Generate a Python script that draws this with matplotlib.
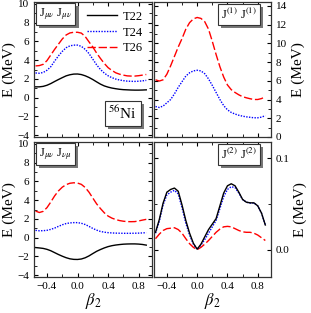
import numpy as np
import matplotlib
matplotlib.use("Agg")
import matplotlib.pyplot as plt
import matplotlib.patheffects as pe
from matplotlib.ticker import MultipleLocator, FixedLocator

plt.rcParams['font.family'] = ['Liberation Serif', 'DejaVu Serif']
plt.rcParams['mathtext.fontset'] = 'stix'

# deformation grid
beta = [-0.55, -0.5, -0.45, -0.4, -0.35, -0.3, -0.25, -0.2, -0.15, -0.1, -0.05,
        0.0, 0.05, 0.1, 0.15, 0.2, 0.25, 0.3, 0.35, 0.4, 0.45, 0.5, 0.55,
        0.6, 0.65, 0.7, 0.75, 0.8, 0.85, 0.9]

# J_munu J_munu (MeV)
jj_t22 = [1.15, 1.15, 1.2, 1.32, 1.5, 1.72, 1.93, 2.13, 2.32, 2.44, 2.51,
          2.52, 2.46, 2.33, 2.15, 1.93, 1.68, 1.44, 1.25, 1.12, 1.02, 0.95, 0.89,
          0.85, 0.83, 0.81, 0.8, 0.8, 0.81, 0.83]
jj_t24 = [2.63, 2.6, 2.68, 2.92, 3.3, 3.9, 4.45, 4.93, 5.32, 5.52, 5.6,
          5.6, 5.47, 5.15, 4.7, 4.1, 3.5, 3.0, 2.62, 2.33, 2.13, 1.98, 1.88,
          1.81, 1.76, 1.74, 1.73, 1.75, 1.79, 1.84]
jj_t26 = [3.38, 3.42, 3.55, 3.95, 4.55, 5.15, 5.7, 6.25, 6.68, 6.9, 6.97,
          6.97, 6.88, 6.52, 5.95, 5.4, 4.75, 4.18, 3.65, 3.2, 2.9, 2.65, 2.5,
          2.4, 2.32, 2.3, 2.3, 2.34, 2.4, 2.47]

# J(1) J(1)
j1_t24 = [3.25, 3.15, 3.3, 3.65, 4.0, 4.6, 5.3, 5.9, 6.5, 6.85, 7.05,
          7.12, 7.05, 6.75, 6.2, 5.5, 4.75, 4.0, 3.35, 2.9, 2.62, 2.45, 2.32,
          2.22, 2.15, 2.1, 2.05, 2.05, 2.12, 2.28]
j1_t26 = [6.1, 5.97, 6.1, 6.7, 7.6, 8.6, 9.6, 10.5, 11.5, 12.2, 12.6,
          12.75, 12.65, 12.3, 11.5, 10.2, 8.8, 7.5, 6.4, 5.55, 5.05, 4.75, 4.5,
          4.3, 4.18, 4.08, 4.0, 4.0, 4.1, 4.3]

# J_munu J_numu
jx_t22 = [-1.06, -1.1, -1.15, -1.25, -1.4, -1.6, -1.8, -1.98, -2.14, -2.26, -2.32,
          -2.33, -2.28, -2.15, -1.95, -1.7, -1.46, -1.27, -1.1, -0.96, -0.86, -0.79, -0.74,
          -0.7, -0.68, -0.67, -0.67, -0.69, -0.73, -0.8]
jx_t24 = [0.78, 0.73, 0.74, 0.78, 0.88, 1.02, 1.2, 1.37, 1.5, 1.57, 1.6,
          1.6, 1.53, 1.4, 1.2, 0.98, 0.8, 0.66, 0.58, 0.53, 0.5, 0.48, 0.47,
          0.46, 0.46, 0.46, 0.47, 0.48, 0.5, 0.53]
jx_t26 = [2.83, 2.68, 2.8, 3.2, 3.8, 4.45, 4.98, 5.38, 5.65, 5.8, 5.85,
          5.82, 5.68, 5.35, 4.85, 4.22, 3.6, 3.1, 2.65, 2.3, 2.08, 1.93, 1.82,
          1.75, 1.71, 1.7, 1.71, 1.78, 1.87, 1.95]

# J(2) J(2)
j2_t22 = [0.019, 0.033, 0.051, 0.063, 0.066, 0.0675, 0.064, 0.049, 0.032, 0.018, 0.007,
          0.0005, 0.006, 0.014, 0.022, 0.028, 0.034, 0.048, 0.062, 0.070, 0.0722, 0.070, 0.063,
          0.055, 0.052, 0.0513, 0.0513, 0.048, 0.040, 0.027]
j2_t24 = [0.018, 0.031, 0.049, 0.060, 0.063, 0.065, 0.061, 0.046, 0.029, 0.016, 0.006,
          0.0005, 0.005, 0.011, 0.018, 0.025, 0.032, 0.045, 0.058, 0.066, 0.069, 0.068, 0.062,
          0.055, 0.052, 0.051, 0.051, 0.048, 0.040, 0.027]
j2_t26 = [0.012, 0.017, 0.021, 0.023, 0.0235, 0.024, 0.022, 0.018, 0.012, 0.0065, 0.0025,
          0.0, 0.0025, 0.006, 0.010, 0.0145, 0.019, 0.0225, 0.025, 0.0255, 0.025, 0.023, 0.021,
          0.0195, 0.019, 0.019, 0.018, 0.016, 0.013, 0.010]

labels = ['T22', 'T24', 'T26']
styles = [dict(color='black', ls='-'),
          dict(color='blue', ls=(0, (1, 1))),
          dict(color='red', ls=(0, (6, 2)))]

fig = plt.figure(figsize=(3.11, 3.13), dpi=100)
W, H = 311.0, 313.0
def box(x0, y0, x1, y1):
    return [x0 / W, 1 - y1 / H, (x1 - x0) / W, (y1 - y0) / H]

ax_tl = fig.add_axes(box(34, 2, 152, 137))
ax_tr = fig.add_axes(box(154, 2, 271, 137))
ax_bl = fig.add_axes(box(34, 142, 152, 277))
ax_br = fig.add_axes(box(154, 142, 271, 277))

for ax in [ax_tl, ax_tr, ax_bl, ax_br]:
    ax.set_xlim(-0.57, 0.975)
    ax.xaxis.set_major_locator(MultipleLocator(0.4))
    ax.xaxis.set_minor_locator(MultipleLocator(0.2))
    ax.tick_params(which='both', direction='in', top=True, right=True, labelsize=8)
    ax.tick_params(which='major', length=3)
    ax.tick_params(which='minor', length=2)
    for s in ax.spines.values():
        s.set_linewidth(0.9)
        s.set_color('#333333')

lw = 1.0
for y, lab, st in zip([jj_t22, jj_t24, jj_t26], labels, styles):
    ax_tl.plot(beta, y, lw=lw, label=lab, **st)
for y, st in zip([j1_t24, j1_t26], styles[1:]):
    ax_tr.plot(beta, y, lw=lw, **st)
for y, st in zip([jx_t22, jx_t24, jx_t26], styles):
    ax_bl.plot(beta, y, lw=lw, **st)
for y, st in zip([j2_t26, j2_t24, j2_t22], styles[::-1]):
    ax_br.plot(beta, y, lw=lw, **st)

for ax in [ax_tl, ax_bl]:
    ax.set_ylim(-4.2, 10.2)
    ax.yaxis.set_major_locator(MultipleLocator(2))
    ax.yaxis.set_minor_locator(MultipleLocator(1))
    ax.set_ylabel('E (MeV)', fontsize=11, labelpad=1)

ax_tr.set_ylim(0, 14.4)
ax_tr.yaxis.set_major_locator(MultipleLocator(2))
ax_tr.yaxis.set_minor_locator(MultipleLocator(1))
ax_br.set_ylim(-0.03, 0.118)
ax_br.yaxis.set_major_locator(FixedLocator([0.0, 0.1]))
ax_br.yaxis.set_minor_locator(MultipleLocator(0.05))
ax_br.set_yticklabels(['0.0', '0.1'])
for ax in [ax_tr, ax_br]:
    ax.tick_params(axis='y', which='both', labelleft=False, labelright=True)
    ax.yaxis.set_label_position('right')
    ax.set_ylabel('E (MeV)', fontsize=11, labelpad=3)

for ax in [ax_tl, ax_tr]:
    ax.tick_params(axis='x', labelbottom=False)
for ax in [ax_bl, ax_br]:
    ax.set_xlabel(r'$\beta_2$', fontsize=12, labelpad=0)

def tag(ax, x, y, s, fs=9):
    t = ax.text(x, y, s, transform=ax.transAxes, fontsize=fs, ha='left', va='top',
                bbox=dict(boxstyle='square,pad=0.25', fc='white', ec='#333333', lw=0.8))
    t.get_bbox_patch().set_path_effects(
        [pe.SimplePatchShadow(offset=(2.5, -2.5), shadow_rgbFace='#777777', alpha=1.0),
         pe.Normal()])
    return t

tag(ax_tl, 0.04, 0.97, r'J$_{\mu\nu}$ J$_{\mu\nu}$')
tag(ax_tr, 0.57, 0.965, r'J$^{(1)}$ J$^{(1)}$')
tag(ax_bl, 0.04, 0.97, r'J$_{\mu\nu}$ J$_{\nu\mu}$')
tag(ax_br, 0.57, 0.965, r'J$^{(2)}$ J$^{(2)}$')
tag(ax_tl, 0.63, 0.24, r'$^{56}$Ni', fs=11)

ax_tl.legend(loc='upper right', frameon=False, fontsize=9, handlelength=2.4,
             handletextpad=0.5, labelspacing=0.3, borderaxespad=0.3)

fig.savefig('out.png', dpi=100)
